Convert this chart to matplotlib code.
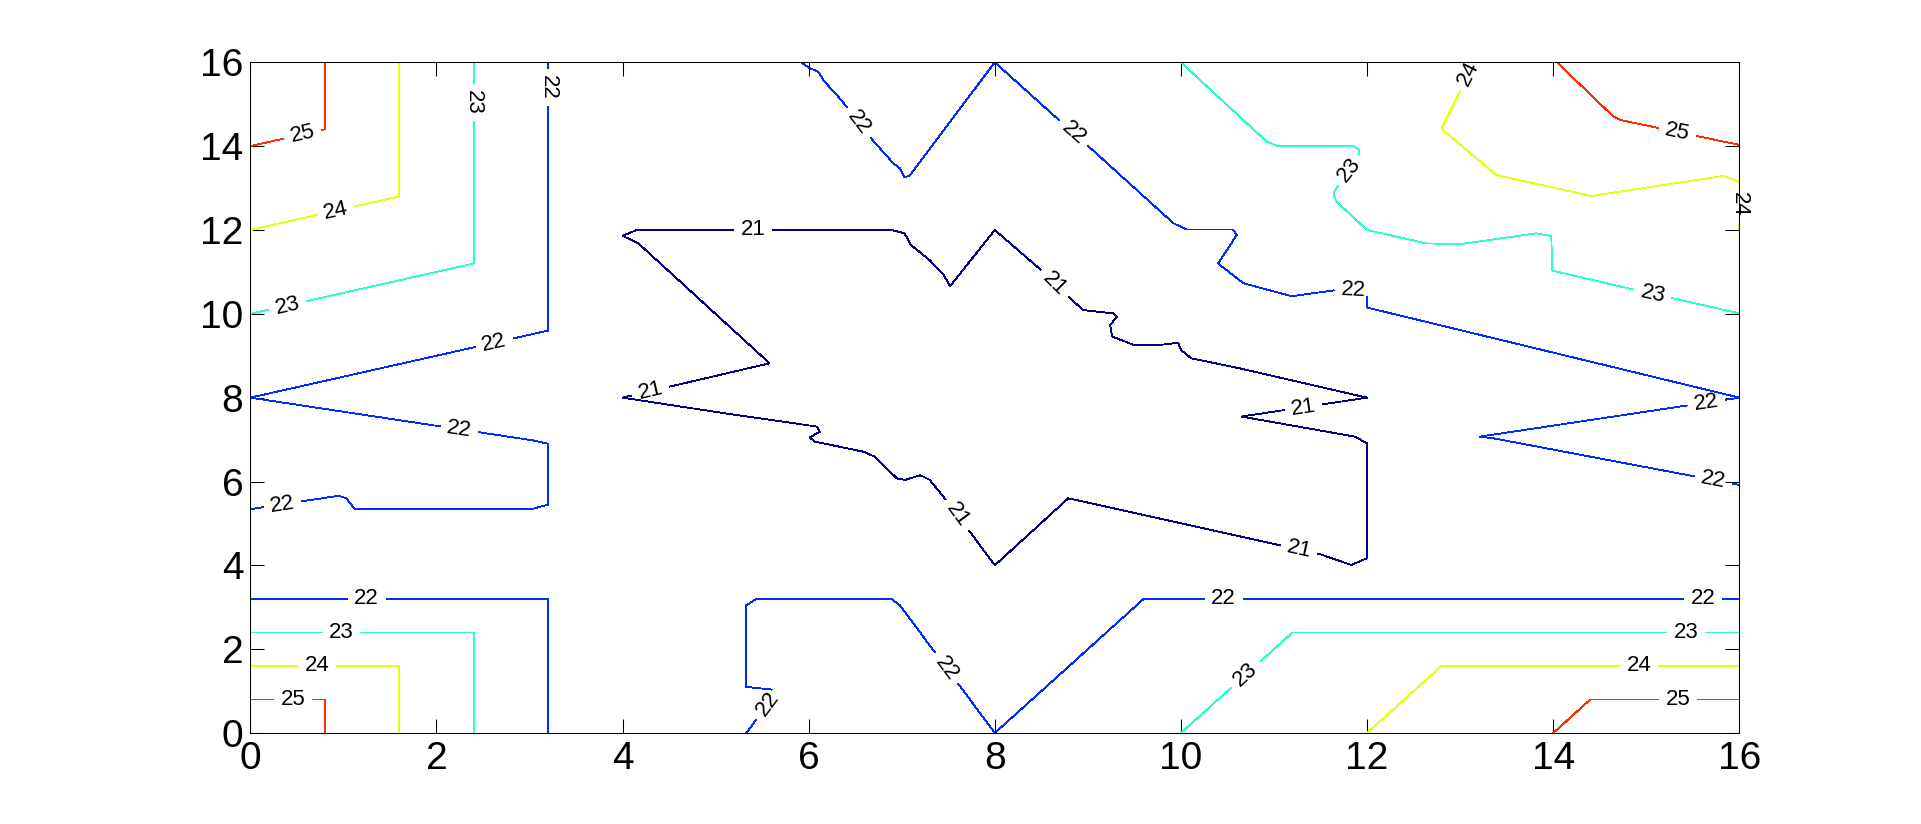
"""Labelled isolines (21-25) over a 16 x 16 field, MATLAB-style contour look."""

import matplotlib

matplotlib.use("Agg")
import matplotlib.pyplot as plt
import numpy as np
from matplotlib.colors import Normalize
from matplotlib.contour import ContourSet

plt.rcParams["font.family"] = ["Liberation Sans", "DejaVu Sans"]

LEVELS = [21, 22, 23, 24, 25]

# Isoline vertices (data units).
# level 21: one closed loop round the centre
c21_x = [4.0, 5.58, 4.17, 4.0, 4.15, 6.89, 7.03, 7.10, 7.30, 7.45, 7.52, 8.0,
         8.52, 8.77, 8.95, 9.27, 9.31, 9.24, 9.26, 9.49, 9.78, 9.97, 10.0, 10.11,
         10.63, 12.0, 10.65, 11.87, 12.0, 12.0, 11.83, 11.49, 8.79, 8.0, 7.52,
         7.30, 7.20, 7.04, 6.95, 6.71, 6.59, 6.07, 6.01, 6.12, 6.09, 5.15, 4.0]
c21_y = [8.0, 8.82, 11.68, 11.86, 12.0, 12.0, 11.92, 11.64, 11.28, 10.93, 10.66,
         12.0, 11.0, 10.45, 10.09, 10.01, 9.93, 9.73, 9.46, 9.26, 9.26, 9.31, 9.14,
         8.94, 8.70, 8.0, 7.55, 7.07, 6.91, 4.17, 4.01, 4.27, 5.60, 4.0, 5.44,
         6.04, 6.15, 6.04, 6.07, 6.59, 6.71, 6.95, 7.05, 7.19, 7.31, 7.61, 8.0]

# level 22
c22_tl_x = [3.2, 3.2, 0.0]
c22_tl_y = [16.0, 9.6, 8.0]
c22_left_x = [0.0, 3.04, 3.2, 3.2, 3.04, 1.12, 1.03, 0.95, 0.0]
c22_left_y = [8.0, 6.98, 6.9, 5.45, 5.35, 5.35, 5.6, 5.66, 5.34]
c22_bl_x = [0.0, 3.2, 3.2]
c22_bl_y = [3.2, 3.2, 0.0]
c22_bot_x = [5.33, 5.65, 5.63, 5.33, 5.33, 5.44, 6.89, 6.98, 8.0, 9.6, 16.0]
c22_bot_y = [0.0, 0.96, 1.03, 1.10, 3.05, 3.2, 3.2, 3.05, 0.0, 3.2, 3.2]
c22_top_x = [5.92, 6.01, 6.10, 6.17, 6.35, 6.62, 6.91, 6.98, 7.03, 7.09, 8.0,
             8.73, 8.97, 9.92, 10.06, 10.56, 10.60, 10.40, 10.67, 11.19, 11.71,
             12.0, 12.0, 16.0]
c22_top_y = [16.0, 15.86, 15.78, 15.54, 15.10, 14.31, 13.59, 13.47, 13.25, 13.31,
             16.0, 14.54, 14.07, 12.16, 12.01, 12.01, 11.88, 11.20, 10.73, 10.42,
             10.58, 10.55, 10.15, 8.0]
c22_right_x = [16.0, 13.21, 13.36, 16.0]
c22_right_y = [8.0, 7.07, 7.03, 5.92]

# level 23
c23_tl_x = [2.4, 2.4, 0.0]
c23_tl_y = [16.0, 11.2, 10.0]
c23_bl_x = [0.0, 2.4, 2.4]
c23_bl_y = [2.4, 2.4, 0.0]
c23_br_x = [10.0, 11.2, 16.0]
c23_br_y = [0.0, 2.4, 2.4]
c23_tr_x = [10.0, 10.92, 11.03, 11.85, 11.92, 11.91, 11.71, 11.64, 11.67, 12.0,
            12.64, 13.0, 13.82, 13.98, 13.99, 14.11, 14.88, 15.29, 16.0]
c23_tr_y = [16.0, 14.11, 14.01, 14.01, 13.91, 13.71, 13.15, 12.87, 12.68, 12.0,
            11.68, 11.66, 11.92, 11.86, 11.03, 10.97, 10.57, 10.37, 10.01]

# level 24
c24_tl_x = [1.6, 1.6, 0.0]
c24_tl_y = [16.0, 12.8, 12.0]
c24_bl_x = [0.0, 1.6, 1.6]
c24_bl_y = [1.6, 1.6, 0.0]
c24_br_x = [12.0, 12.8, 16.0]
c24_br_y = [0.0, 1.6, 1.6]
c24_tr_x = [13.15, 12.80, 13.39, 14.41, 15.83, 16.0, 16.0]
c24_tr_y = [16.0, 14.41, 13.31, 12.81, 13.29, 13.15, 12.0]

# level 25
c25_tl_x = [0.8, 0.8, 0.0]
c25_tl_y = [16.0, 14.4, 14.0]
c25_bl_x = [0.0, 0.8, 0.8]
c25_bl_y = [0.8, 0.8, 0.0]
c25_br_x = [14.0, 14.4, 16.0]
c25_br_y = [0.0, 0.8, 0.8]
c25_tr_x = [14.04, 14.65, 14.73, 16.0]
c25_tr_y = [16.0, 14.70, 14.62, 14.03]

# where the inline labels sit
label_x = [5.40, 8.61, 4.30, 11.32, 7.55, 11.26,
           2.63, 3.2, 2.24, 0.35, 1.25, 6.50, 8.81, 11.85, 15.65, 15.72, 15.61,
           10.46, 7.43, 5.58,
           2.4, 0.41, 11.83, 15.06, 0.98, 10.72, 15.43,
           0.93, 13.23, 16.0, 0.72, 14.92,
           0.57, 15.33, 0.46, 15.34]
label_y = [12.0, 10.65, 8.17, 7.70, 5.12, 4.29,
           9.22, 15.40, 7.16, 5.38, 3.2, 14.5, 14.22, 10.45, 7.82, 6.0, 3.2,
           3.2, 1.46, 0.67,
           15.04, 10.11, 13.39, 10.37, 2.4, 1.34, 2.4,
           12.38, 15.58, 12.6, 1.6, 1.6,
           14.19, 14.27, 0.8, 0.8]

paths = {
    21: [(c21_x, c21_y)],
    22: [(c22_tl_x, c22_tl_y), (c22_left_x, c22_left_y), (c22_bl_x, c22_bl_y),
         (c22_bot_x, c22_bot_y), (c22_top_x, c22_top_y), (c22_right_x, c22_right_y)],
    23: [(c23_tl_x, c23_tl_y), (c23_bl_x, c23_bl_y), (c23_br_x, c23_br_y),
         (c23_tr_x, c23_tr_y)],
    24: [(c24_tl_x, c24_tl_y), (c24_bl_x, c24_bl_y), (c24_br_x, c24_br_y),
         (c24_tr_x, c24_tr_y)],
    25: [(c25_tl_x, c25_tl_y), (c25_bl_x, c25_bl_y), (c25_br_x, c25_br_y),
         (c25_tr_x, c25_tr_y)],
}
allsegs = [[np.column_stack([x, y]) for x, y in paths[lv]] for lv in LEVELS]

fig = plt.figure(figsize=(19.21, 8.24), dpi=100)
ax = fig.add_axes([0.1303, 0.1104, 0.7751, 0.8140])

# old MATLAB jet line colouring (21 falls on the navy end), 1 px aliased lines
cs = ContourSet(ax, LEVELS, allsegs, cmap="jet", norm=Normalize(21.26, 25.61),
                linewidths=0.6, antialiased=False)

ax.set_xlim(0, 16)
ax.set_ylim(0, 16)
ax.set_xticks(range(0, 17, 2))
ax.set_yticks(range(0, 17, 2))
ax.tick_params(direction="in", length=10, width=0.75, top=True, right=True,
               labelsize=28, colors="black")
ax.tick_params(axis="x", pad=6)
ax.tick_params(axis="y", pad=5)
for spine in ax.spines.values():
    spine.set_linewidth(0.75)

ax.clabel(cs, fmt="%d", colors="k", fontsize=16, inline=True, inline_spacing=7,
          manual=list(zip(label_x, label_y)))
# the "24" on the right border is drawn straddling the frame
for t in cs.labelTexts:
    t.set_clip_on(False)

fig.savefig("out.png", dpi=100, facecolor="white")
